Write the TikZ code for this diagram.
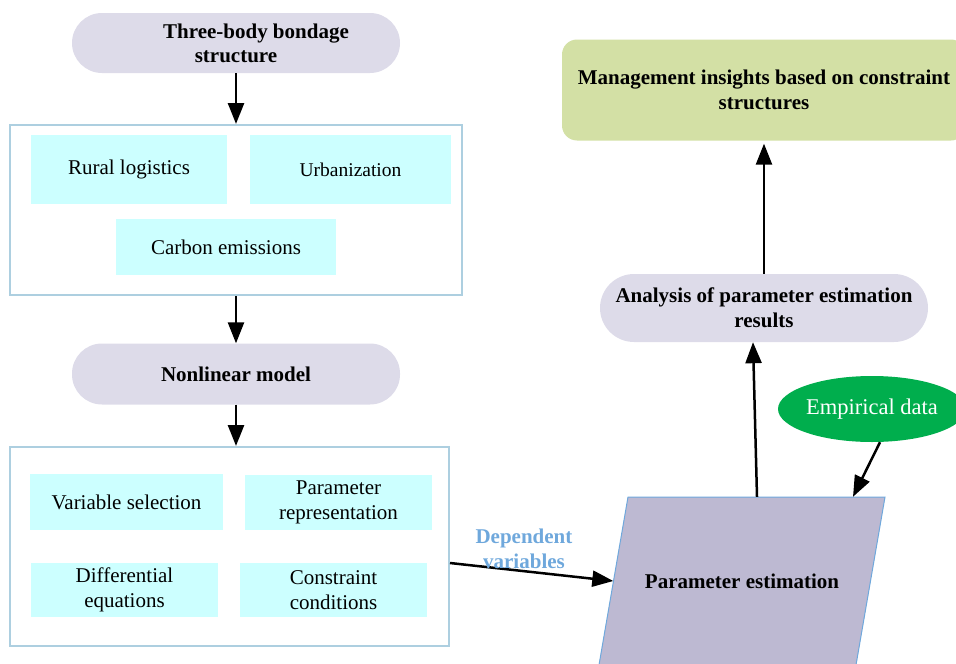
\documentclass[tikz,border=0pt]{standalone}
\usepackage{fontspec}
\setmainfont{Liberation Serif}
\usetikzlibrary{arrows.meta,shapes.geometric,calc}
\definecolor{pillc}{HTML}{DDDBE9}
\definecolor{cyanc}{HTML}{CCFFFF}
\definecolor{framec}{HTML}{ADCFE0}
\definecolor{parac}{HTML}{BDB9D2}
\definecolor{parab}{HTML}{6FA8DC}
\definecolor{mgmtc}{HTML}{D3E0A5}
\definecolor{empc}{HTML}{00AE4D}
\definecolor{labc}{HTML}{6FA8DC}
\begin{document}
\begin{tikzpicture}[x=1pt,y=-1pt,
 pill/.style={rectangle,rounded corners=30pt,fill=pillc,minimum width=328pt,minimum height=60pt,font=\fontsize{21}{24}\selectfont\bfseries,align=center,inner sep=0pt},
 frame/.style={rectangle,draw=framec,line width=2pt,inner sep=0pt},
 cbox/.style={rectangle,fill=cyanc,inner sep=0pt,align=center,font=\fontsize{21}{25}\selectfont},
 arr/.style={line width=2.5pt,-{Triangle[length=21pt,width=16pt]}},
]
\useasboundingbox (0,0) rectangle (956,664);

% left column
\node[pill] (p1) at (236,43) {\hspace*{40pt}Three-body bondage\\structure};
\node[frame,minimum width=452pt,minimum height=170pt] (box1) at (236,210) {};
\node[cbox,minimum width=196pt,minimum height=69pt] (rural) at (129,169.5) {Rural logistics};
\node[cbox,minimum width=201pt,minimum height=69pt,font=\fontsize{19.5}{25}\selectfont] (urban) at (350.5,169.5) {Urbanization};
\node[cbox,minimum width=220pt,minimum height=56pt] (carbon) at (226,247) {Carbon emissions};
\node[pill,minimum height=61pt] (p2) at (236,374) {Nonlinear model};
\node[frame,minimum width=439pt,minimum height=199pt] (box2) at (229.5,546.5) {};
\node[cbox,minimum width=193pt,minimum height=56pt] (vsel) at (126.5,502) {Variable selection};
\node[cbox,minimum width=187pt,minimum height=55pt] (prep) at (338.5,502.5) {Parameter\\representation};
\node[cbox,minimum width=187pt,minimum height=54pt] (deq) at (124.5,590) {Differential\\equations};
\node[cbox,minimum width=187pt,minimum height=54pt] (ccon) at (333.5,590) {Constraint\\conditions};

% right column
\draw[parab,fill=parac,line width=1pt] (628,497) -- (885,497) -- (856,665) -- (599,665) -- cycle;
\node[rectangle,minimum width=257pt,minimum height=168pt,inner sep=0pt,font=\fontsize{21}{25}\selectfont\bfseries] (pe) at (742,581) {Parameter estimation};
\node[pill,rounded corners=34pt,minimum height=68pt,font=\fontsize{21}{25}\selectfont\bfseries] (anal) at (764,308) {Analysis of parameter estimation\\results};
\node[rectangle,rounded corners=15pt,fill=mgmtc,minimum width=404pt,minimum height=101pt,inner sep=0pt,align=center,font=\fontsize{21}{25}\selectfont\bfseries] (mgmt) at (764,90) {Management insights based on constraint\\structures};
\node[ellipse,fill=empc,text=white,minimum width=188pt,minimum height=66pt,inner sep=0pt,font=\fontsize{22.5}{25}\selectfont] (emp) at (872,409) {Empirical data};

% connectors
\draw[arr] (p1.south) -- (box1.north);
\draw[arr] (box1.south) -- (p2.north);
\draw[arr] (p2.south) -- (p2.south |- box2.north);
\draw[arr] ([yshift=-16.5pt]box2.east) -- (pe.west);
\node[text=labc,align=center,font=\fontsize{21}{25}\selectfont\bfseries] (dv) at (524,549) {Dependent\\variables};
\draw[arr] ([xshift=15pt]pe.north) -- ([xshift=-11pt]anal.south);
\draw[arr,shorten >=3pt] (anal.north) -- (mgmt.south);
\draw[arr] ([xshift=8pt]emp.south) -- ([xshift=111pt]pe.north);
\end{tikzpicture}
\end{document}
